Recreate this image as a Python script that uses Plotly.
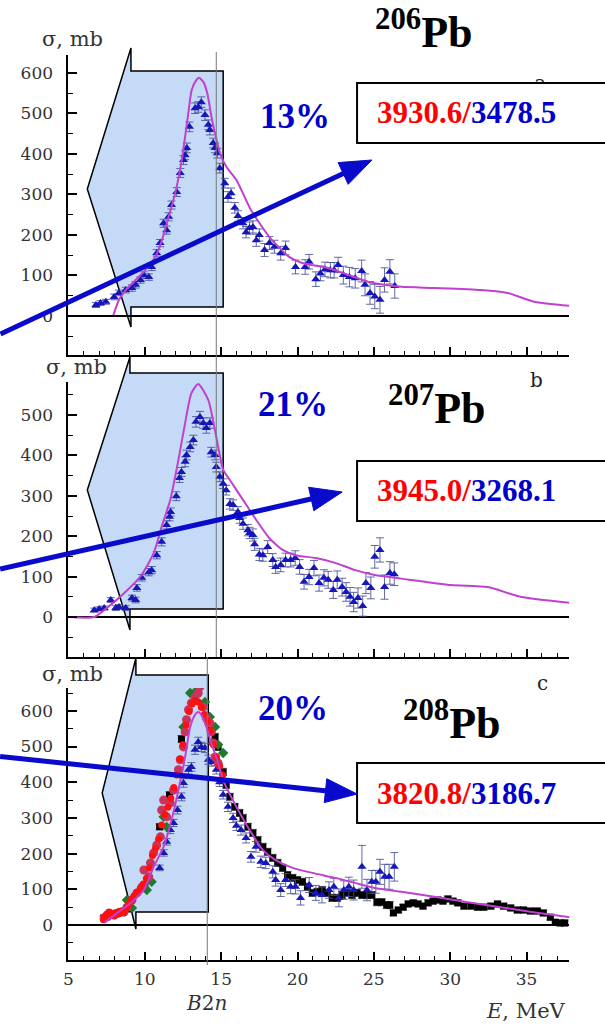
import math
import plotly.graph_objects as go

# ---------------- data ----------------
# 206Pb: experimental points (E MeV, sigma mb, error mb)
pb206_exp = [(6.80,27,6),(7.10,32,6),(7.45,35,6),(7.99,47,7),(8.30,57,7),(8.75,64,7),(9.15,69,8),(9.40,77,8),
             (9.72,89,8),(9.93,101,8),(10.26,96,8),(10.45,121,9),(10.78,155,9),(11.00,180,9),(11.23,229,10),
             (11.43,212,10),(11.56,245,10),(11.75,274,10),(12.09,306,11),(12.32,353,11),(12.53,385,11),
             (12.64,397,11),(12.75,415,12),(12.92,467,12),(13.29,513,13),(13.50,516,13),(13.70,528,13),
             (13.94,496,13),(14.16,472,12),(14.26,459,12),(14.48,427,12),(14.60,415,12),(14.75,402,12),
             (14.91,365,12),(15.24,328,12),(15.45,294,13),(15.65,303,13),(15.89,267,13),(16.10,247,13),
             (16.43,229,14),(16.63,207,14),(16.86,217,15),(17.08,220,15),(17.30,187,15),(17.50,200,15),
             (17.84,163,16),(18.16,180,16),(18.49,171,16),(18.90,155,17),(19.22,168,17),(19.87,121,17),
             (20.50,121,18),(20.76,134,18),(21.20,91,18),(21.50,105,18),(21.80,115,18),(22.15,113,19),
             (22.40,113,19),(22.66,126,19),(23.00,101,22),(23.40,96,24),(23.78,93,24),(24.20,111,27),
             (24.42,77,27),(24.75,57,28),(25.06,48,30),(25.40,40,33),(25.70,89,30),(26.05,109,30),(26.37,74,30)]
pb206_theory = [(7.94,2),(8.31,40),(8.75,64),(9.40,89),(10.04,114),(10.69,146),(11.13,188),(11.56,245),
                (11.99,303),(12.42,385),(12.79,484),(13.07,558),(13.35,581),(13.55,588),(13.83,578),
                (14.09,550),(14.37,491),(14.65,442),(14.96,398),(15.35,368),(16.00,336),(16.95,262),
                (18.16,195),(19.45,146),(20.30,131),(22.06,118),(23.36,101),(24.66,84),(25.71,77),
                (26.80,72),(28.96,69),(32.00,64),(33.75,57),(35.50,35),(37.80,25)]

# 207Pb
pb207_exp = [(6.69,17,5),(7.01,20,5),(7.34,22,5),(7.77,42,6),(8.10,22,6),(8.31,25,6),(8.75,22,6),(9.16,47,7),
             (9.40,42,7),(9.48,72,8),(9.80,97,8),(10.26,111,9),(10.45,116,9),(10.78,153,9),(11.10,186,10),
             (11.43,228,10),(11.62,248,10),(11.69,260,10),(12.06,299,11),(12.27,344,11),(12.40,359,11),
             (12.64,384,12),(12.73,401,12),(12.97,421,12),(13.18,438,12),(13.35,483,13),(13.61,495,14),
             (13.83,480,13),(14.03,468,13),(14.26,480,13),(14.35,408,12),(14.60,401,12),(14.68,371,12),
             (14.91,347,12),(15.13,330,12),(15.33,314,12),(15.57,280,13),(15.78,277,13),(16.10,260,13),
             (16.21,245,13),(16.43,231,14),(16.75,215,14),(16.86,208,14),(17.08,203,15),(17.19,180,15),
             (17.50,155,15),(17.73,153,15),(18.05,173,16),(18.38,141,16),(18.57,124,16),(18.90,129,17),
             (19.22,141,17),(19.55,141,17),(19.85,146,18),(20.14,124,18),(20.43,87,18),(20.76,99,19),
             (21.08,121,19),(21.41,84,20),(21.73,97,20),(22.01,92,21),(22.34,67,21),(22.60,92,22),
             (22.92,74,22),(23.18,62,23),(23.44,50,23),(23.68,37,24),(23.96,47,25),(24.27,27,25),
             (24.48,84,26),(24.80,72,27),(25.06,149,28),(25.40,166,30),(25.70,74,30),(26.05,109,28),(26.34,106,28)]
pb207_theory = [(5.00,0),(6.69,0),(7.50,22),(8.64,59),(9.75,102),(10.58,158),(11.10,223),(11.67,290),
                (12.20,389),(12.64,480),(13.05,554),(13.50,577),(14.16,537),(14.68,446),(15.13,365),
                (15.57,339),(16.43,290),(17.30,240),(18.16,195),(19.03,166),(19.87,153),(21.20,146),
                (22.47,134),(23.78,116),(25.06,104),(26.80,95),(30.06,79),(32.45,74),(34.60,50),(37.80,35)]

# 208Pb
pb208_exp_tri = [(10.97,160,8),(11.23,202,9),(11.43,233,9),(11.67,266,10),(11.88,286,10),(12.14,322,11),
                 (12.40,359,11),(12.53,398,12),(12.86,435,12),(13.05,443,12),(13.29,491,13),(13.50,513,13),
                 (13.70,499,13),(13.94,496,13),(14.16,463,13),(14.35,457,12),(14.68,435,12),(14.90,400,12),
                 (15.13,365,12),(15.45,331,13),(15.78,300,13),(16.00,278,13),(16.30,266,14),(16.63,244,14),
                 (16.95,191,15),(17.28,219,15),(17.60,177,16),(17.92,174,16),(18.38,149,17),(18.57,126,17),
                 (18.90,98,18),(19.22,126,18),(19.55,107,19),(19.87,107,20),(20.20,76,20),(20.76,112,21),
                 (21.20,90,21),(21.60,84,22),(22.06,98,23),(22.38,107,24),(22.71,76,25),(23.03,98,26),
                 (23.36,107,27),(23.68,98,28),(24.22,163,60),(24.55,98,30),(24.87,121,32),(25.13,121,32),
                 (25.40,149,35),(25.71,135,35),(26.00,135,35),(26.34,163,40)]
pb208_exp_sq = [(7.30,20,4),(9.00,45,5),(10.00,110,6),(10.97,275,8),(11.62,364,9),(12.40,521,10),(14.60,527,10),
                (14.80,499,10),(15.13,429,10),(15.33,392,10),(15.57,359,10),(15.89,331,10),(16.21,314,10),
                (16.43,300,10),(16.75,275,10),(17.08,258,10),(17.40,238,10),(17.73,219,10),(18.05,205,10),
                (18.38,188,10),(18.70,174,10),(19.03,160,10),(19.35,140,10),(19.68,132,10),(20.00,126,10),
                (20.32,121,10),(20.65,107,10),(20.97,90,10),(21.30,93,10),(21.62,98,10),(21.95,90,10),
                (22.27,76,10),(22.60,76,10),(22.92,84,10),(23.25,90,10),(23.57,84,10),(23.90,90,10),
                (24.22,84,10),(24.55,84,10),(24.87,84,10),(25.20,64,10),(25.52,64,10),(25.84,56,10),
                (26.04,56,10),(26.28,34,8),(26.60,42,8),(26.92,50,8),(27.25,59,8),(27.58,62,8),(27.90,59,8),
                (28.22,53,8),(28.55,62,8),(28.88,67,8),(29.20,70,8),(29.53,67,8),(29.85,73,8),(30.18,67,8),
                (30.50,62,8),(30.90,53,8),(31.36,53,8),(31.80,50,8),(32.20,50,8),(32.66,53,8),(33.10,59,8),
                (33.50,53,8),(33.96,48,8),(34.40,42,8),(34.80,42,8),(35.26,39,8),(35.70,39,8),(36.10,34,8),
                (36.56,22,8),(36.88,8,8),(37.20,6,8),(37.50,6,8)]
pb208_exp_red = [(7.30,15),(7.40,25),(7.50,30),(7.60,22),(7.70,35),(7.80,28),(7.90,32),(8.00,26),(8.10,35),
                 (8.20,30),(8.30,38),(8.40,33),(8.50,40),(8.60,36),(8.70,42),(8.80,48),(8.90,55),(9.00,62),
                 (9.10,70),(9.20,75),(9.30,82),(9.50,92),(9.70,102),(9.90,115),(10.10,130),(10.30,160),
                 (10.50,195),(10.70,215),(10.90,240),(11.10,280),(11.30,310),(11.50,330),(11.70,355),
                 (11.90,385),(12.10,420),(12.30,465),(12.50,505),(12.70,560),(12.90,598),(13.10,620),
                 (13.30,628),(13.50,625),(13.70,610),(13.90,590),(14.10,570),(14.30,545),(14.50,505),
                 (14.70,470),(14.90,445),(15.10,420)]
pb208_exp_crimson = [(7.34,20),(7.66,34),(7.99,28),(8.31,34),(8.64,36),(8.83,50),(9.16,70),(9.48,90),(9.81,107),
                     (9.94,154),(10.26,135),(10.37,174),(10.58,202),(10.78,224),(11.02,247),(11.10,322),
                     (11.23,350),(11.43,303),(11.67,342),(11.88,378),(12.20,435),(12.32,463),(12.53,499),
                     (12.64,541),(12.73,575),(12.86,603),(13.05,622),(13.29,639),(13.50,650),(13.61,667),
                     (13.83,611),(14.03,580),(14.26,566),(14.35,541),(14.48,510),(14.60,471),(14.80,454)]
pb208_exp_green = [(8.83,70),(9.16,48),(10.13,98),(10.45,121),(11.23,303),(11.43,275),(12.53,555),(12.97,650),
                   (13.29,653),(13.56,706),(13.94,625),(14.26,583),(14.60,555),(14.80,505),(15.13,482)]
pb208_theory = [(7.34,6),(8.20,34),(9.07,62),(9.94,98),(10.58,163),(11.23,219),(11.75,294),(12.20,378),
                (12.64,471),(12.97,555),(13.29,589),(13.50,597),(13.70,589),(14.03,555),(14.35,510),
                (14.80,454),(15.13,406),(15.50,372),(16.00,331),(16.86,266),(17.73,210),(18.57,182),
                (19.68,160),(20.97,146),(22.47,132),(23.77,118),(25.06,104),(26.80,93),(28.96,79),
                (31.15,64),(33.30,50),(35.45,36),(37.86,22)]

nuclei = ["206", "207", "208"]
percent_labels = ["13%", "21%", "20%"]
sum_red = ["3930.6", "3945.0", "3820.8"]
sum_blue = ["3478.5", "3268.1", "3186.7"]
panel_letters = ["a", "b", "c"]
b2n_energy = [14.68, 14.68, 14.09]
x_ticks = [5, 10, 15, 20, 25, 30, 35]

# ---------------- layout geometry (pixels) ----------------
W, H = 605, 1027
def fx(p): return p / W
def fy(p): return 1 - p / H

X_RANGE = [5, 37.8]
XPIX = (64, 569)
panels = [
    dict(ytop=55, ybot=355, yrange=[-96.3, 644.4], line=(52, 358)),
    dict(ytop=382, ybot=657, yrange=[-99.0, 581.7], line=(358, 657)),
    dict(ytop=688, ybot=960, yrange=[-98.0, 664.0], line=(657, 965)),
]

def ex(E):  # energy -> paper x, via axis range/domain
    return fx(XPIX[0] + (E - X_RANGE[0]) / (X_RANGE[1] - X_RANGE[0]) * (XPIX[1] - XPIX[0]))

fig = go.Figure()

BLUE_PT = "#1717B8"
ERR_BLUE = "rgba(70,80,150,0.85)"
MAGENTA = "#C040D0"

def unz(rows, k):
    return [r[k] for r in rows]

def add_exp(rows, ax, color=BLUE_PT, symbol="triangle-up", size=8, errcolor=ERR_BLUE):
    fig.add_trace(go.Scatter(x=unz(rows, 0), y=unz(rows, 1), mode="markers",
                             marker=dict(symbol=symbol, size=size, color=color),
                             error_y=dict(type="data", array=unz(rows, 2), color=errcolor, thickness=1, width=4),
                             xaxis="x" + ax, yaxis="y" + ax, showlegend=False))

def add_pts(rows, ax, color, symbol, size):
    fig.add_trace(go.Scatter(x=unz(rows, 0), y=unz(rows, 1), mode="markers",
                             marker=dict(symbol=symbol, size=size, color=color),
                             xaxis="x" + ax, yaxis="y" + ax, showlegend=False))

def add_theory(rows, ax):
    fig.add_trace(go.Scatter(x=unz(rows, 0), y=unz(rows, 1), mode="lines",
                             line=dict(color=MAGENTA, width=2, shape="spline", smoothing=0.6),
                             xaxis="x" + ax, yaxis="y" + ax, showlegend=False))

# panel a
add_exp(pb206_exp, "")
add_theory(pb206_theory, "")
# panel b
add_exp(pb207_exp, "2")
add_theory(pb207_theory, "2")
# panel c
add_exp(pb208_exp_sq, "3", color="black", symbol="square", size=7, errcolor="rgba(80,80,80,0.8)")
add_exp(pb208_exp_tri, "3")
add_pts(pb208_exp_green, "3", "#1E7A2E", "diamond", 8)
add_pts(pb208_exp_crimson, "3", "#C8345C", "circle", 9)
add_pts(pb208_exp_red, "3", "#FF1010", "circle", 7)
add_theory(pb208_theory, "3")

# panel letter "a" sits partly behind the box -> drawn as a trace so the box covers it
fig.add_trace(go.Scatter(x=[35.9], y=[570], mode="text", text=[panel_letters[0]],
                         textfont=dict(family="DejaVu Serif", size=20, color="#222"),
                         cliponaxis=False, xaxis="x", yaxis="y", showlegend=False))

axis_font = dict(family="DejaVu Serif", size=17, color="#333")
layout = dict(width=W, height=H, autosize=False, margin=dict(l=0, r=0, t=0, b=0),
              paper_bgcolor="white", plot_bgcolor="rgba(0,0,0,0)", showlegend=False)
for i, p in enumerate(panels):
    sfx = "" if i == 0 else str(i + 1)
    layout["xaxis" + sfx] = dict(domain=[fx(XPIX[0]), fx(XPIX[1])], range=X_RANGE, anchor="y" + sfx,
                                 showline=True, linecolor="black", linewidth=2, ticks="inside",
                                 tickvals=x_ticks, ticklen=8, tickwidth=1.5, tickcolor="black",
                                 minor=dict(dtick=1, tick0=5, ticks="inside", ticklen=4, tickwidth=1.2,
                                            tickcolor="black"),
                                 showgrid=False, zeroline=False, showticklabels=(i == 2),
                                 tickfont=axis_font, ticklabelstandoff=3)
    layout["yaxis" + sfx] = dict(domain=[fy(p["ybot"]), fy(p["ytop"])], range=p["yrange"], anchor="x" + sfx,
                                 showline=True, linecolor="black", linewidth=2, ticks="inside",
                                 dtick=100, tick0=0, ticklen=9, tickwidth=1.5, tickcolor="black",
                                 minor=dict(dtick=50, ticks="inside", ticklen=5, tickwidth=1.2, tickcolor="black"),
                                 showgrid=False, zeroline=True, zerolinecolor="black", zerolinewidth=1.5,
                                 tickfont=axis_font, ticklabelstandoff=10)
fig.update_layout(**layout)

shapes = []
annotations = []

# light-blue pentagon markers (pixel outline)
polys = [
    [(127, 48), (127, 71), (220, 71), (220, 307), (127, 307), (127, 327), (83, 189)],
    [(126, 357), (126, 373), (220, 373), (220, 609), (126, 609), (126, 630), (83, 490)],
    [(132, 658), (132, 675), (205, 675), (205, 912), (132, 912), (132, 929), (98, 793)],
]
for poly in polys:
    path = "M " + " L ".join(f"{fx(a):.5f},{fy(b):.5f}" for a, b in poly) + " Z"
    shapes.append(dict(type="path", path=path, xref="paper", yref="paper", layer="below",
                       fillcolor="#C4DAF6", line=dict(color="black", width=1.5)))

# B2n vertical lines
for i, p in enumerate(panels):
    shapes.append(dict(type="line", xref="paper", yref="paper", x0=ex(b2n_energy[i]), x1=ex(b2n_energy[i]),
                       y0=fy(p["line"][1]), y1=fy(p["line"][0]), line=dict(color="#777", width=1), layer="above"))

# result boxes
boxes = [(83, 143), (461, 521), (763, 823)]
for i, (t, b) in enumerate(boxes):
    shapes.append(dict(type="rect", xref="paper", yref="paper", x0=fx(355), x1=fx(640), y0=fy(b), y1=fy(t),
                       fillcolor="white", line=dict(color="black", width=2), layer="above"))
    annotations.append(dict(xref="paper", yref="paper", x=fx(373), y=fy((t + b) / 2), xanchor="left",
                            yanchor="middle", showarrow=False,
                            text=f"<b><span style='color:#FF0000'>{sum_red[i]}/</span>"
                                 f"<span style='color:#0000CC'>{sum_blue[i]}</span></b>",
                            font=dict(family="Liberation Serif", size=31)))

# blue arrows
arrows = [((0, 332), (370, 160)), ((0, 568), (340, 492)), ((0, 757), (355, 794))]
for (x0, y0), (x1, y1) in arrows:
    dx, dy = x1 - x0, y1 - y0
    L = math.hypot(dx, dy)
    ux, uy = dx / L, dy / L
    nx, ny = -uy, ux
    hl, hw = 32, 12
    bx, by = x1 - hl * ux, y1 - hl * uy
    shapes.append(dict(type="line", xref="paper", yref="paper", x0=fx(x0 - 5 * ux), y0=fy(y0 - 5 * uy),
                       x1=fx(bx + 2 * ux), y1=fy(by + 2 * uy), line=dict(color="#0A0ACC", width=5), layer="above"))
    pts = [(x1, y1), (bx + hw * nx, by + hw * ny), (bx - hw * nx, by - hw * ny)]
    path = "M " + " L ".join(f"{fx(a):.5f},{fy(b):.5f}" for a, b in pts) + " Z"
    shapes.append(dict(type="path", path=path, xref="paper", yref="paper", fillcolor="#0A0ACC",
                       line=dict(color="#0A0ACC", width=1), layer="above"))

# percentages
pct_pos = [(292, 117), (290, 404), (290, 708)]
for i, (x, y) in enumerate(pct_pos):
    annotations.append(dict(xref="paper", yref="paper", x=fx(x), y=fy(y), xanchor="center", yanchor="middle",
                            showarrow=False, text=f"<b>{percent_labels[i]}</b>",
                            font=dict(family="Liberation Serif", size=35, color="#0000CC")))

# nucleus titles
title_pos = [(422, 30), (436, 405), (451, 720)]
for i, (x, y) in enumerate(title_pos):
    annotations.append(dict(xref="paper", yref="paper", x=fx(x), y=fy(y), xanchor="center", yanchor="middle",
                            showarrow=False, text=f"<b><sup>{nuclei[i]}</sup>Pb</b>",
                            font=dict(family="Liberation Serif", size=44, color="black")))

# panel letters b, c
for letter, (x, y) in zip(panel_letters[1:], [(536, 380), (542, 683)]):
    annotations.append(dict(xref="paper", yref="paper", x=fx(x), y=fy(y), xanchor="center", yanchor="middle",
                            showarrow=False, text=letter,
                            font=dict(family="DejaVu Serif", size=20, color="#222")))

# sigma labels
for (x, y) in [(68, 39), (72, 367), (68, 674)]:
    annotations.append(dict(xref="paper", yref="paper", x=fx(x), y=fy(y), xanchor="center", yanchor="middle",
                            showarrow=False, text="σ, mb",
                            font=dict(family="DejaVu Serif", size=21, color="#333")))

annotations.append(dict(xref="paper", yref="paper", x=fx(203), y=fy(1003), xanchor="center", yanchor="middle",
                        showarrow=False, text="<i>B</i>2<i>n</i>",
                        font=dict(family="DejaVu Serif", size=20, color="#333")))
annotations.append(dict(xref="paper", yref="paper", x=fx(568), y=fy(1011), xanchor="right", yanchor="middle",
                        showarrow=False, text="<i>E</i>, MeV",
                        font=dict(family="DejaVu Serif", size=21, color="#333")))

fig.update_layout(shapes=shapes, annotations=annotations)
fig.write_html("out.html")
